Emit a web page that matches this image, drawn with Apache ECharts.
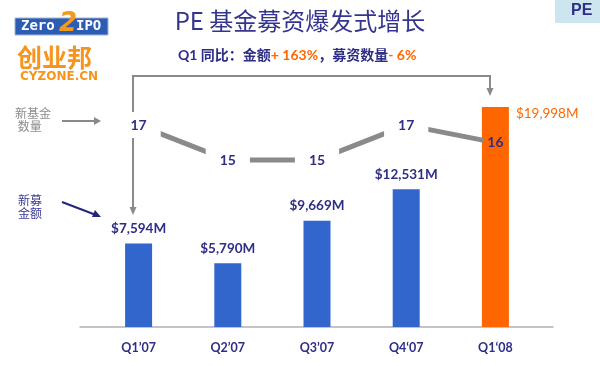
<!DOCTYPE html>
<html>
<head>
<meta charset="utf-8">
<script src="https://cdn.jsdelivr.net/npm/echarts@6/dist/echarts.min.js"></script>
<style>html,body{margin:0;padding:0;background:#fff}#c{width:600px;height:366px}</style>
</head>
<body>
<div id="c"></div>
<script>
const categories = ['Q1\u201907', 'Q2\u201907', 'Q3\u201907', 'Q4\u201807', 'Q1\u201808'];
const amounts = [7594, 5790, 9669, 12531, 19998];
const fundCounts = [17, 15, 15, 17, 16];
const amountLabels = ['$7,594M', '$5,790M', '$9,669M', '$12,531M', '$19,998M'];

const NAVY = '#2e2e86';
const BLUE = '#3366cc';
const ORANGE = '#ff6600';
const GREY = '#8a8a8a';
const FONT = 'Lato, "Noto Sans CJK SC", sans-serif';
const CJK = '"Noto Sans CJK SC", sans-serif';

const chart = echarts.init(document.getElementById('c'), null, {renderer: 'canvas'});
const last = amounts.length - 1;

const option = {
  backgroundColor: '#fff',
  animation: false,
  grid: [
    {left: 94, right: 60, top: 63, bottom: 39},
    {left: 80, right: 47, top: 63, bottom: 39}
  ],
  xAxis: [
    {type: 'category', gridIndex: 0, data: categories,
     axisLine: {show: false}, axisTick: {show: false},
     axisLabel: {color: NAVY, fontWeight: 'bold', fontSize: 12.5, fontFamily: FONT, margin: 15}},
    {type: 'category', gridIndex: 1, data: [''],
     axisLine: {show: true, lineStyle: {color: '#b0b0b8', width: 1.5}},
     axisTick: {show: false}, axisLabel: {show: false}}
  ],
  yAxis: [
    {type: 'value', gridIndex: 0, min: 0, max: 24000, show: false},
    {type: 'value', gridIndex: 0, min: 5.46, max: 20.55, show: false},
    {type: 'value', gridIndex: 1, min: 0, max: 1, show: false}
  ],
  series: [
    {
      type: 'bar', xAxisIndex: 0, yAxisIndex: 0, barWidth: 27,
      data: amounts.map((v, i) => ({
        value: v,
        itemStyle: {color: i === last ? ORANGE : BLUE},
        label: i === last ? {position: [34, 0], color: ORANGE, fontWeight: 'normal'} : {}
      })),
      label: {
        show: true, position: 'top', distance: 8,
        color: NAVY, fontSize: 13.5, fontWeight: 'bold', fontFamily: FONT,
        formatter: p => amountLabels[p.dataIndex]
      }
    },
    {
      type: 'line', xAxisIndex: 0, yAxisIndex: 1,
      symbol: 'circle', symbolSize: 1, showSymbol: true,
      itemStyle: {color: 'rgba(0,0,0,0)'},
      lineStyle: {color: GREY, width: 5},
      data: fundCounts.map((v, i) => ({
        value: v,
        label: i === last ? {backgroundColor: ORANGE, padding: [5, 4]} : {}
      })),
      label: {
        show: true, position: 'inside',
        color: NAVY, fontSize: 14, fontWeight: 'bold', fontFamily: FONT,
        backgroundColor: '#fff', padding: [6, 14]
      },
      z: 5
    }
  ],
  graphic: [
    // title
    {type: 'text', left: 'center', top: 9, style: {text: 'PE 基金募资爆发式增长', fill: '#35358f', font: '24px ' + CJK}},
    // subtitle
    {type: 'text', x: 178, y: 48, style: {
      text: '{a|Q1 同比：金额}{b|+ 163%}{a|，募资数量}{b|- 6%}',
      rich: {
        a: {fill: NAVY, fontSize: 14, fontWeight: 'bold', fontFamily: FONT},
        b: {fill: ORANGE, fontSize: 14, fontWeight: 'bold', fontFamily: FONT}
      }
    }},
    // PE badge
    {type: 'rect', shape: {x: 555, y: 0, width: 45, height: 23}, style: {fill: '#cde5ee'}},
    {type: 'text', x: 571, y: 3, style: {text: 'PE', fill: NAVY, font: 'bold 16px Arial, sans-serif'}},
    // logo
    {type: 'rect', shape: {x: 15, y: 18, width: 93, height: 17}, style: {fill: '#2d5db3', stroke: '#9fb3d8', lineWidth: 1}},
    {type: 'text', x: 21, y: 19, style: {text: 'Zero', fill: '#fff', font: 'bold 14px "DejaVu Sans Mono", monospace'}},
    {type: 'text', x: 76, y: 19, style: {text: 'IPO', fill: '#fff', font: 'bold 14px "DejaVu Sans Mono", monospace'}},
    {type: 'text', x: 59, y: 11, style: {text: '2', fill: '#f39a1e', font: 'italic bold 26px "DejaVu Sans", sans-serif'}},
    {type: 'text', x: 17, y: 45, style: {text: '创业邦', fill: '#f7941d', font: 'bold 25px ' + CJK}},
    {type: 'text', x: 20, y: 71, style: {text: 'CYZONE.CN', fill: '#f7941d', font: 'bold 12px "DejaVu Sans", sans-serif'}},
    // side notes
    {type: 'text', x: 15, y: 107, style: {text: '新基金\n 数量', fill: '#8c8c8c', font: '12px ' + CJK, lineHeight: 13}},
    {type: 'line', shape: {x1: 62, y1: 121, x2: 96, y2: 121}, style: {stroke: GREY, lineWidth: 2}},
    {type: 'polygon', shape: {points: [[101, 121], [94, 117], [94, 125]]}, style: {fill: GREY}},
    {type: 'text', x: 18, y: 194, style: {text: '新募\n金额', fill: '#3b3b95', font: '12px ' + CJK, lineHeight: 13}},
    {type: 'line', shape: {x1: 62, y1: 202, x2: 96, y2: 215}, style: {stroke: '#24247a', lineWidth: 2}},
    {type: 'polygon', shape: {points: [[101, 217], [92, 217], [95, 210]]}, style: {fill: '#24247a'}},
    // bracket
    {type: 'polyline', shape: {points: [[133, 208], [133, 76], [490, 76], [490, 90]]}, style: {stroke: GREY, lineWidth: 2, fill: null}},
    {type: 'polygon', shape: {points: [[133, 215], [129.5, 207], [136.5, 207]]}, style: {fill: GREY}},
    {type: 'polygon', shape: {points: [[490, 96], [486.5, 88], [493.5, 88]]}, style: {fill: GREY}}
  ]
};
chart.setOption(option);
</script>
</body>
</html>
